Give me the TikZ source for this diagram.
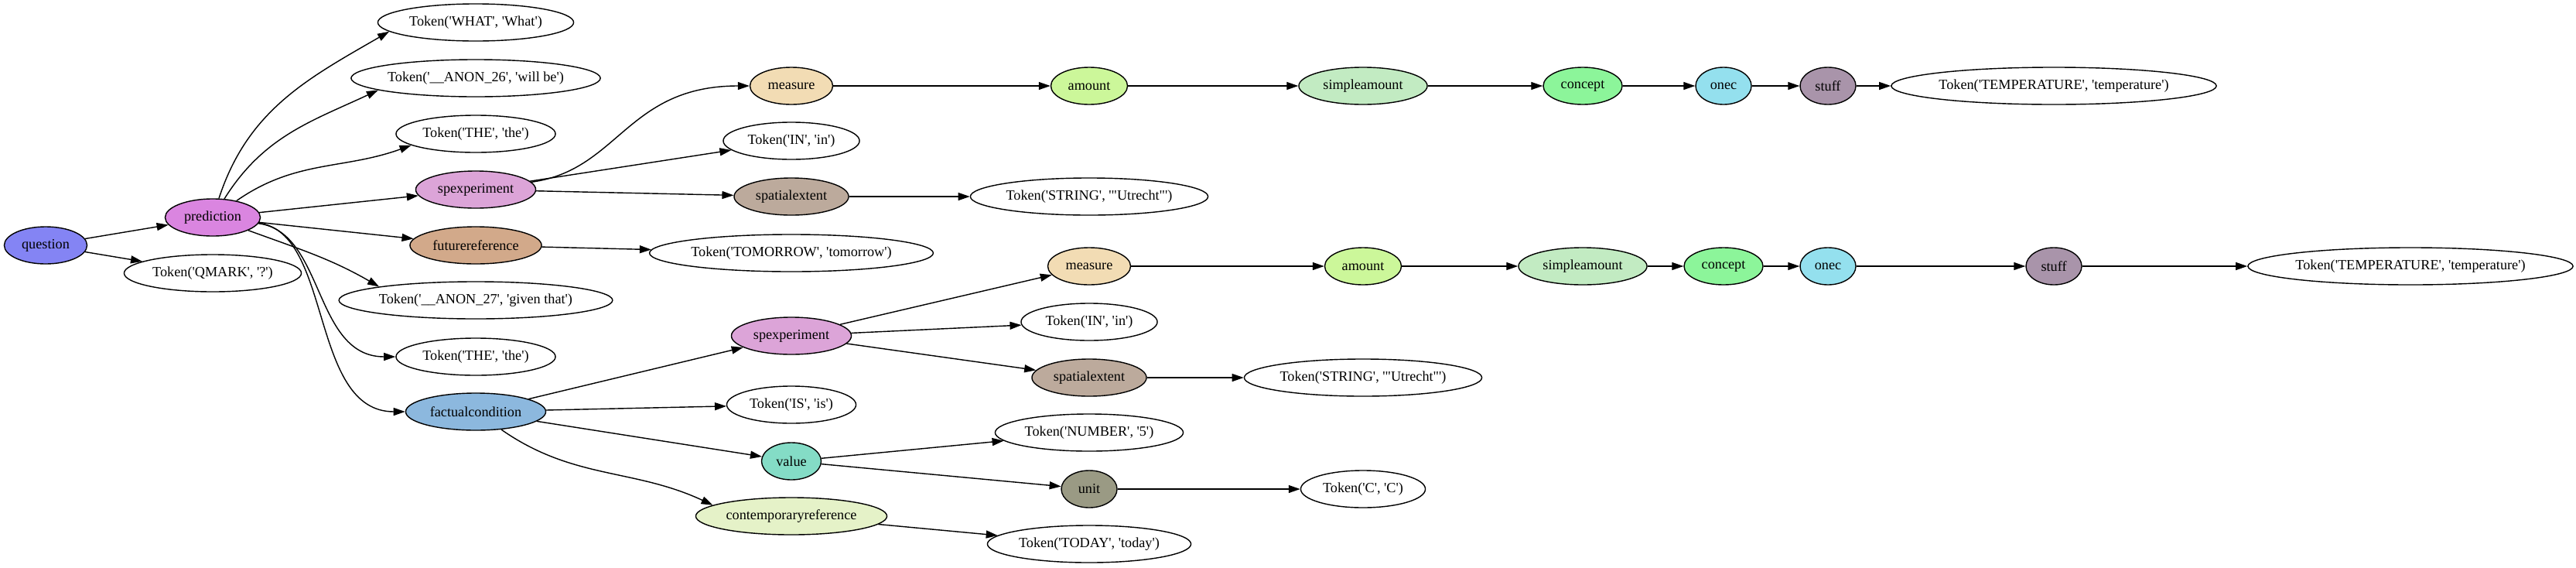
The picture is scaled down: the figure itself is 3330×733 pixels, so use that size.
\documentclass[tikz,border=0pt]{standalone}
\usepackage{fontspec}
\setmainfont{Liberation Serif}
\usetikzlibrary{shapes.geometric,arrows.meta}

\definecolor{cquestion}{HTML}{8484F4}
\definecolor{cprediction}{HTML}{DA85E0}
\definecolor{cspexp}{HTML}{DCA4D8}
\definecolor{cfutref}{HTML}{D2A98A}
\definecolor{cfactual}{HTML}{8CB8DE}
\definecolor{cmeasure}{HTML}{F2DCB4}
\definecolor{camount}{HTML}{CCF79A}
\definecolor{csimple}{HTML}{C2EBC2}
\definecolor{cconcept}{HTML}{8CF59A}
\definecolor{conec}{HTML}{94E0EE}
\definecolor{cstuff}{HTML}{A994AA}
\definecolor{cspatial}{HTML}{BCAA9C}
\definecolor{cvalue}{HTML}{84DCC6}
\definecolor{cunit}{HTML}{9A9A84}
\definecolor{ccontemp}{HTML}{E5F2C8}

\newcommand{\gvtok}[2]{Token(\textquotesingle#1\textquotesingle, \textquotesingle#2\textquotesingle)}

\begin{document}
\begin{tikzpicture}[x=0.01cm,y=-0.01cm,
   font=\fontsize{5.18pt}{6pt}\selectfont,
   nd/.style={ellipse,draw,line width=0.4pt,inner sep=0pt,minimum height=0.48cm,fill=#1},
   nd/.default=white,
   lnk/.style={-{Triangle[length=0.15cm,width=0.1cm]},line width=0.4pt}]
   \useasboundingbox (0,0) rectangle (3330,733);

   % rank 0 and 1
   \node[nd=cquestion,minimum width=1.07cm] (question) at (59,317) {question};
   \node[nd=cprediction,minimum width=1.23cm] (prediction) at (275,281) {prediction};
   \node[nd,minimum width=2.29cm] (qmark) at (275,353) {\gvtok{QMARK}{?}};

   % rank 2
   \node[nd,minimum width=2.53cm] (what) at (615,29) {\gvtok{WHAT}{What}};
   \node[nd,minimum width=3.22cm] (anon26) at (615,101) {\gvtok{\_\_ANON\_26}{will be}};
   \node[nd,minimum width=2.06cm] (the1) at (615,173) {\gvtok{THE}{the}};
   \node[nd=cspexp,minimum width=1.55cm] (spexpA) at (615,245) {spexperiment};
   \node[nd=cfutref,minimum width=1.70cm] (futref) at (615,317) {futurereference};
   \node[nd,minimum width=3.52cm] (anon27) at (615,388) {\gvtok{\_\_ANON\_27}{given that}};
   \node[nd,minimum width=2.06cm] (the2) at (615,461) {\gvtok{THE}{the}};
   \node[nd=cfactual,minimum width=1.81cm] (factual) at (615,532) {factualcondition};

   % rank 3
   \node[nd=cmeasure,minimum width=1.07cm] (measureA) at (1023,111) {measure};
   \node[nd,minimum width=1.76cm] (inA) at (1023,182) {\gvtok{IN}{in}};
   \node[nd=cspatial,minimum width=1.48cm] (spatialA) at (1023,254) {spatialextent};
   \node[nd,minimum width=3.66cm] (tomorrow) at (1023,327) {\gvtok{TOMORROW}{tomorrow}};
   \node[nd=cspexp,minimum width=1.55cm] (spexpB) at (1023,434) {spexperiment};
   \node[nd,minimum width=1.67cm] (is) at (1023,523) {\gvtok{IS}{is}};
   \node[nd=cvalue,minimum width=0.77cm] (valueN) at (1023,596) {value};
   \node[nd=ccontemp,minimum width=2.47cm] (contemp) at (1023,667) {contemporaryreference};

   % rank 4
   \node[nd=camount,minimum width=0.99cm] (amountA) at (1408,111) {amount};
   \node[nd,minimum width=3.07cm] (stringA) at (1408,254) {\gvtok{STRING}{\textquotedbl Utrecht\textquotedbl}};
   \node[nd=cmeasure,minimum width=1.07cm] (measureB) at (1408,344) {measure};
   \node[nd,minimum width=1.76cm] (inB) at (1408,416) {\gvtok{IN}{in}};
   \node[nd=cspatial,minimum width=1.48cm] (spatialB) at (1408,488) {spatialextent};
   \node[nd,minimum width=2.43cm] (number) at (1408,559) {\gvtok{NUMBER}{5}};
   \node[nd=cunit,minimum width=0.72cm] (unitN) at (1408,632) {unit};
   \node[nd,minimum width=2.63cm] (today) at (1408,703) {\gvtok{TODAY}{today}};

   % rank 5 and up
   \node[nd=csimple,minimum width=1.66cm] (simpleA) at (1762,111) {simpleamount};
   \node[nd=camount,minimum width=0.99cm] (amountB) at (1762,344) {amount};
   \node[nd,minimum width=3.07cm] (stringB) at (1762,488) {\gvtok{STRING}{\textquotedbl Utrecht\textquotedbl}};
   \node[nd,minimum width=1.61cm] (tokC) at (1762,632) {\gvtok{C}{C}};
   \node[nd=cconcept,minimum width=1.02cm] (conceptA) at (2046,111) {concept};
   \node[nd=csimple,minimum width=1.66cm] (simpleB) at (2046,344) {simpleamount};
   \node[nd=conec,minimum width=0.72cm] (onecA) at (2228,111) {onec};
   \node[nd=cconcept,minimum width=1.02cm] (conceptB) at (2228,344) {concept};
   \node[nd=cstuff,minimum width=0.72cm] (stuffA) at (2363,111) {stuff};
   \node[nd=conec,minimum width=0.72cm] (onecB) at (2363,344) {onec};
   \node[nd,minimum width=4.12cm] (tempA) at (2655,111) {\gvtok{TEMPERATURE}{temperature}};
   \node[nd=cstuff,minimum width=0.72cm] (stuffB) at (2655,344) {stuff};
   \node[nd,minimum width=4.12cm] (tempB) at (3116,344) {\gvtok{TEMPERATURE}{temperature}};

   % edges
   \draw[lnk] (question) -- (prediction);
   \draw[lnk] (question) -- (qmark);
   \draw[lnk] (prediction) to[out=72,in=210] (what.186);
   \draw[lnk] (prediction) to[out=58,in=205] (anon26.187);
   \draw[lnk] (prediction) to[out=35,in=200] (the1.190);
   \draw[lnk] (prediction) -- (spexpA);
   \draw[lnk] (prediction) -- (futref);
   \draw[lnk] (prediction) to[out=-20,in=150] (anon27.172);
   \draw[lnk] (prediction) .. controls (420,300) and (405,461) .. (the2);
   \draw[lnk] (prediction) .. controls (430,300) and (400,532) .. (factual);

   \draw[lnk] (spexpA) .. controls (800,220) and (810,111) .. (measureA);
   \draw[lnk] (spexpA) -- (inA);
   \draw[lnk] (spexpA) -- (spatialA);
   \draw[lnk] (futref) -- (tomorrow);
   \draw[lnk] (factual) -- (spexpB);
   \draw[lnk] (factual) -- (is);
   \draw[lnk] (factual) -- (valueN);
   \draw[lnk] (factual) to[out=-35,in=155] (contemp.172);

   \draw[lnk] (measureA) -- (amountA);
   \draw[lnk] (amountA) -- (simpleA);
   \draw[lnk] (simpleA) -- (conceptA);
   \draw[lnk] (conceptA) -- (onecA);
   \draw[lnk] (onecA) -- (stuffA);
   \draw[lnk] (stuffA) -- (tempA);
   \draw[lnk] (spatialA) -- (stringA);

   \draw[lnk] (spexpB) -- (measureB);
   \draw[lnk] (spexpB) -- (inB);
   \draw[lnk] (spexpB) -- (spatialB);
   \draw[lnk] (measureB) -- (amountB);
   \draw[lnk] (amountB) -- (simpleB);
   \draw[lnk] (simpleB) -- (conceptB);
   \draw[lnk] (conceptB) -- (onecB);
   \draw[lnk] (onecB) -- (stuffB);
   \draw[lnk] (stuffB) -- (tempB);
   \draw[lnk] (spatialB) -- (stringB);

   \draw[lnk] (valueN) -- (number);
   \draw[lnk] (valueN) -- (unitN);
   \draw[lnk] (unitN) -- (tokC);
   \draw[lnk] (contemp) -- (today);
\end{tikzpicture}
\end{document}
